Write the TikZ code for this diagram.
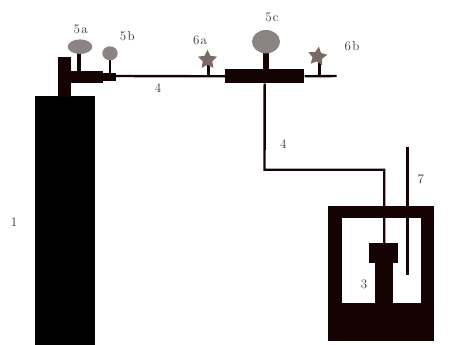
\documentclass[tikz,border=0pt]{standalone}
\usetikzlibrary{shapes.geometric}
\definecolor{pipe}{HTML}{150303}
\definecolor{gauge}{HTML}{8C8482}
\definecolor{valve}{HTML}{7A6A66}
\newcommand{\tagsp}{\kern1.2pt}
\tikzset{
  solid part/.style={fill=pipe, draw=none},
  tube/.style={draw=pipe, line width=2.4pt},
  gaugehead/.style={ellipse, fill=gauge, draw=none, inner sep=0pt},
  valvehead/.style={star, star points=5, star point ratio=2.0, fill=valve, draw=none, inner sep=0pt, minimum size=20pt},
  lbl/.style={font=\fontsize{13}{15}\selectfont, text=black!80, inner sep=0pt}
}
\begin{document}
\begin{tikzpicture}[x=1pt, y=-1pt]
\useasboundingbox (0,0) rectangle (452,345);
\fill[white] (0,0) rectangle (452,345);

% gas cylinder
\fill[black] (34.7,96) rectangle (94.7,345);
\node[lbl] (l1) at (14,222) {1};

% cylinder valve T-piece and outlet
\fill[solid part] (57.7,57.3) rectangle (71.3,96.5);
\fill[solid part] (71,70.7) rectangle (103,82.7);
\fill[solid part] (102.5,72.7) rectangle (116,80.7);

% pressure gauges 5a and 5b on the cylinder head
\fill[solid part] (77.3,52) rectangle (80.7,71);
\node[gaugehead, minimum width=24.6pt, minimum height=14.6pt] (g5a) at (80,46.7) {};
\node[lbl] (l5a) at (80.7,29.5) {5\tagsp a};
\fill[solid part] (108.7,58) rectangle (111,73);
\node[gaugehead, minimum width=15.4pt, minimum height=14pt] (g5b) at (110,53.3) {};
\node[lbl] (l5b) at (127.3,36) {5\tagsp b};

% regulator block with gauge 5c
\node[solid part, minimum width=79.3pt, minimum height=14pt, inner sep=0pt] (reg) at (264.7,76.3) {};
\fill[solid part] (262.7,50) rectangle (268.7,70);
\node[gaugehead, minimum width=28pt, minimum height=23.4pt] (g5c) at (266,41.7) {};
\node[lbl] (l5c) at (272,17) {5\tagsp c};

% line from the cylinder outlet to the regulator, and the branch to valve 6b
\coordinate (out) at (116,76);
\coordinate (endb) at (336.7,76);
\draw[tube] (out) -- (reg.west);
\draw[tube] (reg.east) -- (endb);
\node[lbl] (l4a) at (158,88) {4};

% needle valves 6a and 6b
\fill[solid part] (207.3,63) rectangle (210,75);
\node[valvehead] (v6a) at (207.5,59.8) {};
\node[lbl] (l6a) at (200,40) {6\tagsp a};
\fill[solid part] (318,61.7) rectangle (320.7,75);
\node[valvehead, rotate=-8] (v6b) at (317.5,56.5) {};
\node[lbl] (l6b) at (352,46) {6\tagsp b};

% bath vessel with sample holder
\fill[pipe] (327.7,206) rectangle (434.3,341.3);
\fill[white] (342.3,218.3) rectangle (420.7,303.3);
\node[solid part, minimum width=28.4pt, minimum height=20pt, inner sep=0pt] (cell) at (383.5,252.7) {};
\fill[pipe] (374.7,262) rectangle (392.7,304);
\node[lbl] (l3) at (364,284) {3};

% feed line down to the cell
\coordinate (c1) at (264.5,169.7);
\coordinate (c2) at (384.2,169.7);
\coordinate (c3) at (384.2,266.7);
\draw[tube, line join=miter] (reg.south) -- (c1) -- (c2) -- (c3);
\node[lbl] (l4b) at (283.3,144) {4};

% thermometer 7
\coordinate (t1) at (407.7,147.3);
\coordinate (t2) at (407.7,275);
\draw[draw=pipe, line width=3.2pt] (t1) -- (t2);
\node[lbl] (l7) at (420.7,179.3) {7};
\end{tikzpicture}
\end{document}
